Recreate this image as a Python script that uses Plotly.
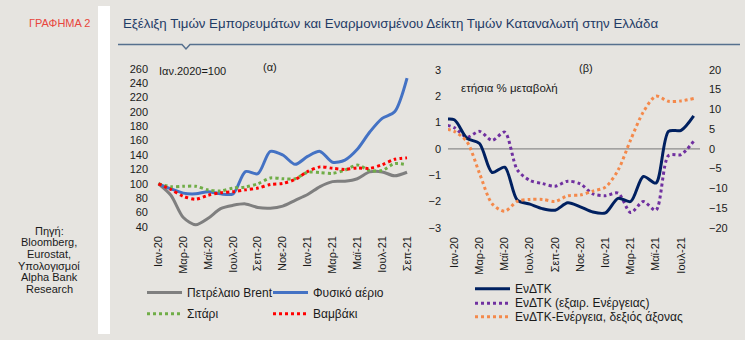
import plotly.graph_objects as go

W, H = 745, 340
BG = "#e6e4e0"
FONT = "Arial, Liberation Sans, sans-serif"

# ---------------- data ----------------
months_gr = ["Ιαν", "Φεβ", "Μαρ", "Απρ", "Μαϊ", "Ιουν", "Ιουλ", "Αυγ", "Σεπ", "Οκτ", "Νοε", "Δεκ"]

# Panel (a): monthly, Jan-20 .. Sep-21, Jan 2020 = 100
left_months = [f"{months_gr[m]}-{20 + (m + 12 * k) // 12}" for k in range(2) for m in range(12)][:21]
brent = [100, 84, 53, 43, 52, 65.5, 70, 72, 67, 66, 69, 77, 85, 96, 103, 103.5, 107, 116.5, 116.5, 111, 116]
gas = [100, 93, 87, 86, 89, 86, 86, 117, 114, 145, 140, 127, 138, 145, 130, 133, 148, 172, 191, 200, 247]
wheat = [100, 96, 96.5, 96.5, 91.5, 90, 94, 95.5, 100, 108, 107, 107, 116, 115.5, 114.5, 119, 126, 118.5, 118.5, 128, 126.5]
cotton = [100, 92, 82.5, 78.5, 84, 87.5, 89, 91.5, 94, 99, 100.5, 106, 117, 123.5, 121.5, 120, 122, 121.5, 126.5, 134, 136]

# Panel (b): annual % change, Dec-19 .. Aug-21
right_months = ["Δεκ-19"] + left_months[:20]
hicp = [1.1, 1.1, 0.4, 0.2, -0.9, -0.7, -1.95, -2.1, -2.27, -2.33, -2.05, -2.2, -2.4, -2.43, -1.88, -2.0, -1.05, -1.3, 0.66, 0.7, 1.25]
hicp_core = [0.95, 0.8, 0.44, 0.66, 0.32, 0.63, -0.8, -1.2, -1.32, -1.42, -1.23, -1.33, -1.71, -1.78, -1.68, -2.42, -2.0, -2.33, -0.26, -0.22, 0.29]
hicp_energy = [5.2, 4.4, 1.8, -6.2, -13.9, -15.8, -13.3, -12.8, -12.8, -13.3, -11.9, -11.7, -10.7, -9.7, -5.4, 2.3, 9.3, 13.3, 12.0, 12.1, 12.7]

left_y_ticks = list(range(40, 261, 20))
right_y_ticks = [-3, -2, -1, 0, 1, 2, 3]
right_y2_ticks = [-20, -15, -10, -5, 0, 5, 10, 15, 20]

# ---------------- helpers ----------------
def px(x):
    return x / W

def py(y):
    return 1 - y / H

C_BRENT = "#7f7f7f"
C_GAS = "#4472c4"
C_WHEAT = "#70ad47"
C_COTTON = "#ff0000"
C_HICP = "#002060"
C_CORE = "#7030a0"
C_ENERGY = "#f4894b"
DOT = "3px,3px"

fig = go.Figure()

xl = list(range(len(left_months)))
xr = list(range(-1, len(right_months) - 1))

def add(x, y, color, dash, xa, ya, name):
    fig.add_trace(go.Scatter(
        x=x, y=y, mode="lines", name=name, xaxis=xa, yaxis=ya,
        line=dict(color=color, width=3, dash=dash, shape="spline", smoothing=0.8),
        showlegend=False, hoverinfo="skip"))

add(xl, brent, C_BRENT, "solid", "x", "y", "Πετρέλαιο Brent")
add(xl, gas, C_GAS, "solid", "x", "y", "Φυσικό αέριο")
add(xl, wheat, C_WHEAT, DOT, "x", "y", "Σιτάρι")
add(xl, cotton, C_COTTON, DOT, "x", "y", "Βαμβάκι")

add(xr, hicp_energy, C_ENERGY, DOT, "x2", "y3", "ΕνΔΤΚ-Ενέργεια, δεξιός άξονας")
add(xr, hicp_core, C_CORE, DOT, "x2", "y2", "ΕνΔΤΚ (εξαιρ. Ενέργειας)")
add(xr, hicp, C_HICP, "solid", "x2", "y2", "ΕνΔΤΚ")

tickfont = dict(family=FONT, size=11, color="#1a1a1a")

axis_common = dict(showgrid=False, zeroline=False, showline=False, ticks="", tickfont=tickfont, fixedrange=True)

fig.update_layout(
    width=W, height=H,
    margin=dict(l=0, r=0, t=0, b=0),
    paper_bgcolor=BG, plot_bgcolor=BG,
    showlegend=False,
    xaxis=dict(domain=[px(152), px(414)], range=[-0.52, 20.56], anchor="y",
               tickvals=xl[::2], ticktext=left_months[::2], tickangle=-90,
               ticklabelstandoff=6, **axis_common),
    yaxis=dict(domain=[py(229), py(65)], range=[40, 260], anchor="x",
               tickvals=left_y_ticks, ticklabelstandoff=3, **axis_common),
    xaxis2=dict(domain=[px(448), px(700)], range=[-0.5, 19.5], anchor="y2",
                tickvals=list(range(0, 19, 2)), ticktext=left_months[0:19:2], tickangle=-90,
                ticklabelstandoff=6, **axis_common),
    yaxis2=dict(domain=[py(230), py(66)], range=[-3, 3], anchor="x2",
                tickvals=right_y_ticks, ticklabelstandoff=6, **axis_common),
    yaxis3=dict(domain=[py(230), py(66)], range=[-20, 20], anchor="x2", overlaying="y2",
                side="right", tickvals=right_y2_ticks, ticklabelstandoff=8, **axis_common),
)

shapes = [
    # white separator strip
    dict(type="rect", xref="paper", yref="paper", x0=px(98), x1=px(110), y0=0, y1=1,
         fillcolor="white", line=dict(width=0), layer="below"),
    # title underline with notch
    dict(type="path", xref="paper", yref="paper",
         path=f"M {px(118)},{py(40)} L {px(182)},{py(40)} L {px(186)},{py(44.5)} L {px(190)},{py(40)} L {px(740)},{py(40)}",
         line=dict(color="#56708e", width=1.5)),
    # zero line in panel (b)
    dict(type="line", xref="x2 domain", yref="y2", x0=0, x1=1, y0=0, y1=0,
         line=dict(color="#8c8c8c", width=1.2), layer="below"),
]

annotations = [
    dict(text="ΓΡΑΦΗΜΑ 2", x=px(27), y=py(18), xanchor="left", yanchor="middle",
         font=dict(family=FONT, size=11, color="#e8453c")),
    dict(text="Εξέλιξη Τιμών Εμπορευμάτων και Εναρμονισμένου Δείκτη Τιμών Καταναλωτή στην Ελλάδα",
         x=px(121), y=py(18), xanchor="left", yanchor="middle",
         font=dict(family=FONT, size=13.3, color="#1f3b66")),
    dict(text="Ιαν.2020=100", x=px(157), y=py(67), xanchor="left", yanchor="middle",
         font=dict(family=FONT, size=11, color="#1a1a1a")),
    dict(text="(α)", x=px(270), y=py(63), xanchor="center", yanchor="middle",
         font=dict(family=FONT, size=11, color="#1a1a1a")),
    dict(text="(β)", x=px(586), y=py(64), xanchor="center", yanchor="middle",
         font=dict(family=FONT, size=11, color="#1a1a1a")),
    dict(text="ετήσια % μεταβολή", x=px(459), y=py(85), xanchor="left", yanchor="middle",
         font=dict(family=FONT, size=11.5, color="#1a1a1a")),
]

source_lines = ["Πηγή:", "Bloomberg,", "Eurostat,", "Υπολογισμοί", "Alpha Bank", "Research"]
for i, s in enumerate(source_lines):
    annotations.append(dict(text=s, x=px(49), y=py(233 + 12 * i), xanchor="center", yanchor="middle",
                            font=dict(family=FONT, size=11, color="#1a1a1a")))

legend_items = [
    ("Πετρέλαιο Brent", C_BRENT, "solid", 147, 182, 297),
    ("Φυσικό αέριο", C_GAS, "solid", 273, 308, 297),
    ("Σιτάρι", C_WHEAT, DOT, 147, 182, 319),
    ("Βαμβάκι", C_COTTON, DOT, 273, 308, 319),
    ("ΕνΔΤΚ", C_HICP, "solid", 475, 510, 293),
    ("ΕνΔΤΚ (εξαιρ. Ενέργειας)", C_CORE, DOT, 475, 510, 308),
    ("ΕνΔΤΚ-Ενέργεια, δεξιός άξονας", C_ENERGY, DOT, 475, 510, 322),
]
for name, color, dash, x0, x1, y in legend_items:
    shapes.append(dict(type="line", xref="paper", yref="paper", x0=px(x0), x1=px(x1),
                       y0=py(y), y1=py(y), line=dict(color=color, width=3, dash=dash)))
    annotations.append(dict(text=name, x=px(x1 + 3), y=py(y), xanchor="left", yanchor="middle",
                            font=dict(family=FONT, size=12, color="#1a1a1a")))

for a in annotations:
    a.update(xref="paper", yref="paper", showarrow=False)

fig.update_layout(shapes=shapes, annotations=annotations)

fig.write_html("out.html")
